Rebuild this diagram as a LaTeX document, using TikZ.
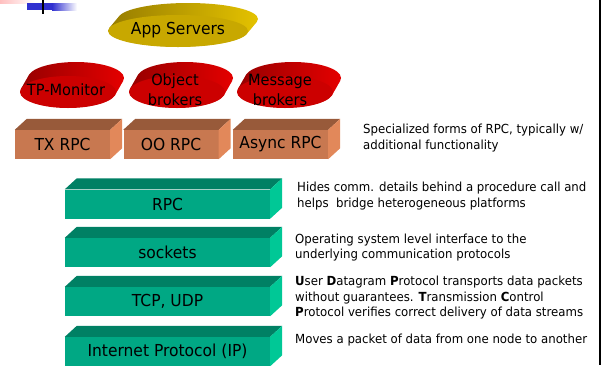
\documentclass[tikz,border=0pt]{standalone}
\usepackage{fontspec}
\setmainfont{DejaVu Sans}[FakeStretch=0.94]
\usetikzlibrary{shapes.geometric,calc}
\definecolor{goldF}{RGB}{200,168,0}
\definecolor{goldD}{RGB}{150,124,0}
\definecolor{goldL}{RGB}{228,194,0}
\definecolor{redF}{RGB}{204,0,0}
\definecolor{redD}{RGB}{150,0,0}
\definecolor{redL}{RGB}{228,0,0}
\definecolor{brF}{RGB}{200,120,80}
\definecolor{brT}{RGB}{152,90,58}
\definecolor{brS}{RGB}{226,136,90}
\definecolor{grF}{RGB}{0,168,132}
\definecolor{grT}{RGB}{0,128,100}
\definecolor{grS}{RGB}{0,200,150}
\definecolor{logoblue}{RGB}{48,48,208}
\newcommand\mydisk[7]{%
  \path[left color=#7D, right color=#7L]
    \foreach \i in {1,...,30}{ ({#1+\i/30*#5},{#2+\i/30*#6}) ellipse [x radius=#3, y radius=#4] };
  \fill[#7F] (#1,#2) ellipse [x radius=#3, y radius=#4];
}
\newcommand\mybox[3]{% node name, top color, side color
  \fill[#2] (#1.north west) -- ++(12,-11) -- ($(#1.north east)+(12,-11)$) -- (#1.north east) -- cycle;
  \fill[#3] (#1.north east) -- ++(12,-11) -- ($(#1.south east)+(12,-11)$) -- (#1.south east) -- cycle;
}
\tikzset{
  lbl/.style={font=\fontsize{15.5}{18}\selectfont, inner sep=0pt},
  gbox/.style={fill=grF, minimum width=205pt, minimum height=29pt, inner sep=0pt, font=\fontsize{16.5}{18}\selectfont},
  obox/.style={fill=brF, minimum width=95pt, minimum height=29pt, inner sep=0pt, font=\fontsize{16.5}{18}\selectfont},
  desc/.style={anchor=west, align=left, inner sep=0pt, font=\fontsize{12.5}{15.5}\selectfont},
}
\begin{document}
\begin{tikzpicture}[x=1pt,y=-1pt]
\useasboundingbox (0,0) rectangle (602,365);
% logo
\fill[left color=red!25, right color=white] (0,0) rectangle (35,3);
\fill[logoblue] (27,3) rectangle (52,10);
\fill[left color=logoblue, right color=white] (52,3) rectangle (77,10);
\fill[black] (42,0) rectangle (44,14);
% right rule
\draw[line width=1.5pt] (600,0) -- (600,365);
% disks
\mydisk{178}{31}{70}{16}{10}{-12}{gold}
\node[lbl, font=\fontsize{16.5}{19}\selectfont] (app) at (178,30) {App Servers};
\mydisk{68}{92}{48}{16}{8}{-14}{red}
\node[lbl] (tpm) at (66,90) {TP-Monitor};
\mydisk{177}{92}{48}{16}{8}{-14}{red}
\node[lbl, align=center, font=\fontsize{15.5}{20}\selectfont] (obj) at (175,90) {Object\\brokers};
\mydisk{285}{92}{48}{16}{8}{-14}{red}
\node[lbl, align=center, font=\fontsize{15.5}{20}\selectfont] (msg) at (280,90) {Message\\brokers};
% RPC variants
\node[obox] (tx) at (62.5,144.5) {TX RPC};
\node[obox] (oo) at (171,144.5) {OO RPC};
\node[obox] (async) at (280.5,144.5) {Async RPC};
\mybox{tx}{brT}{brS}
\mybox{oo}{brT}{brS}
\mybox{async}{brT}{brS}
% green layers
\node[gbox] (rpc) at (167.5,204) {RPC};
\node[gbox] (sock) at (167.5,252.5) {sockets};
\node[gbox] (tcp) at (167.5,301.5) {TCP, UDP};
\node[gbox] (ip) at (167.5,351.5) {Internet Protocol (IP)};
\mybox{rpc}{grT}{grS}
\mybox{sock}{grT}{grS}
\mybox{tcp}{grT}{grS}
\mybox{ip}{grT}{grS}
% descriptions
\node[desc] (d1) at (363,138) {Specialized forms of RPC, typically w/\\additional functionality};
\node[desc] (d2) at (297,196) {Hides comm. details behind a procedure call and\\helps\ \ bridge heterogeneous platforms};
\node[desc] (d3) at (295,247.5) {Operating system level interface to the\\underlying communication protocols};
\node[desc] (d4) at (295,298) {\textbf{U}ser \textbf{D}atagram \textbf{P}rotocol transports data packets\\without guarantees. \textbf{T}ransmission \textbf{C}ontrol\\\textbf{P}rotocol verifies correct delivery of data streams};
\node[desc] (d5) at (295,340) {Moves a packet of data from one node to another};
\end{tikzpicture}
\end{document}
